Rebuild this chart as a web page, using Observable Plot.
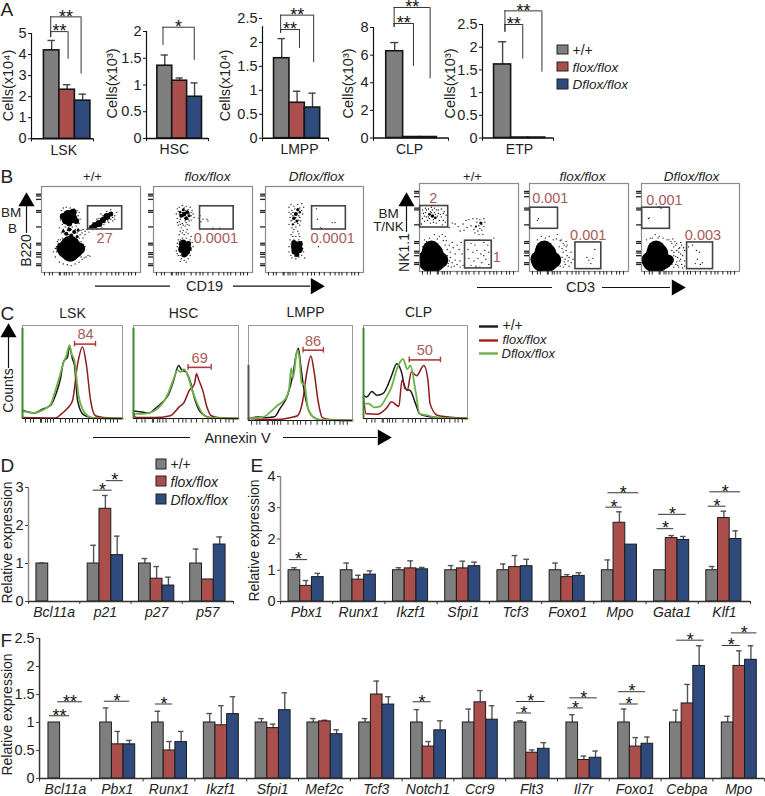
<!DOCTYPE html>
<html><head><meta charset="utf-8">
<style>html,body{margin:0;padding:0;background:#fff}#page{position:relative;width:765px;height:796px;overflow:hidden}#page svg{position:absolute}</style>
<script src="https://cdn.jsdelivr.net/npm/d3@7"></script>
<script src="https://cdn.jsdelivr.net/npm/@observablehq/plot@0.6"></script>
</head><body><div id="page"></div>
<script>
const FONT = "'Liberation Sans',Arial,sans-serif";
const TXT = "#222", REDTXT = "#a85a5a";
const groups = ["+/+","flox/flox","Dflox/flox"];
const barColors = ["#7f7f7f","#ab4f4c","#2f4a7c"];

// ---- Panel A: cell counts
const lskMean=[4.2,2.33,1.81], lskErr=[.47,.24,.31];
const hscMean=[1.36,1.08,.78], hscErr=[.2,.05,.26];
const lmppMean=[1.67,.74,.64], lmppErr=[.41,.24,.3];
const clpMean=[6.28,.07,.07], clpErr=[.63,0,0];
const etpMean=[1.62,.01,.01], etpErr=[.5,0,0];
// bracket: from, to, top, leftEnd, rightEnd, label
const lskBr=[[.31,.8,5.79,4.81,3.07,"**"],[.31,.59,5.09,4.81,3.78,"**"]];
const hscBr=[[.266,.77,2.08,1.74,1.46,"*"]];
const lmppBr=[[.275,.775,2.57,2.19,1.58,"**"],[.275,.56,2.27,2.19,1.875,"**"]];
const clpBr=[[.275,.755,9.45,8,4.29,"**"],[.275,.533,8.29,8,5.19,"**"]];
const etpBr=[[.316,.837,2.8,2.33,1.45,"**"],[.316,.567,2.5,2.33,1.74,"**"]];

// ---- Panel D
const catD=["Bcl11a","p21","p27","p57"];
const wtD=[1,1,1,1], wtDe=[.01,.48,.13,.38];
const fxD=[0,2.44,.6,.58], fxDe=[0,.35,.32,0];
const dfD=[0,1.22,.42,1.5], dfDe=[0,.5,.22,.2];
const brD=[[1.26,1.63,2.93,"*"],[1.52,1.85,3.18,"*"]];

// ---- Panel E
const catE=["Pbx1","Runx1","Ikzf1","Sfpi1","Tcf3","Foxo1","Mpo","Gata1","Klf1"];
const wtE=[1,1,1,1,1,1,1,1,1], wtEe=[.08,.23,.08,.15,.2,.23,.33,0,.12];
const fxE=[.5,.7,1.06,1.06,1.1,.78,2.52,2.03,2.67], fxEe=[.17,.14,.24,.23,.37,.08,.35,.08,.22];
const dfE=[.78,.86,1.03,1.13,1.13,.82,1.82,1.97,2], dfEe=[.12,.12,.06,.13,.22,.1,0,.11,.26];
const brE=[[.17,.52,1.34,"*"],[6.23,6.54,3.02,"*"],[6.27,6.86,3.48,"*"],[7.21,7.53,2.33,"*"],[7.24,7.77,2.79,"*"],[8.19,8.53,3.05,"*"],[8.22,8.81,3.51,"*"]];

// ---- Panel F
const catF=["Bcl11a","Pbx1","Runx1","Ikzf1","Sfpi1","Mef2c","Tcf3","Notch1","Ccr9","Flt3","Il7r","Foxo1","Cebpa","Mpo"];
const wtF=[1,1,1,1,1,1,1,1,1,1,1,1,1,1], wtFe=[0,.26,.2,.16,.07,.07,.07,.23,.24,.03,.14,.24,.22,.11];
const fxF=[0,.61,.5,.95,.9,1.02,1.5,.57,1.36,.46,.33,.57,1.34,2.01], fxFe=[0,.23,.16,.35,.07,.02,.24,.09,.21,.05,.07,.16,.34,.27];
const dfF=[0,.61,.65,1.15,1.22,.79,1.32,.86,1.05,.53,.37,.62,2.01,2.12], dfFe=[0,.07,.19,.31,.31,.08,.14,.17,.25,.11,.12,.12,.36,.25];
const brF=[[.19,.58,1.12,"**"],[.35,.83,1.37,"**"],[1.25,1.74,1.38,"*"],[2.24,2.57,1.33,"*"],[7.21,7.56,1.37,"*"],[9.21,9.5,1.17,"*"],[9.21,9.76,1.375,"*"],[10.2,10.5,1.26,"*"],[10.24,10.77,1.44,"*"],[11.2,11.56,1.33,"*"],[11.18,11.7,1.55,"*"],[12.3,12.83,2.47,"*"],[13.18,13.53,2.375,"*"],[13.36,13.85,2.6,"*"]];

// ---- Panel B: flow plots (percent of axis; third blob value = blob size)
const flowTicks=[3,8,11,18,19,23,25,28,31,38,43,47,50,55,60,66,71,75,78,83,88,91,95];
const flowTicksY=[8,10,18,21,23,32,34,53,70,72,85,89,91];
const b1Blobs=[[25,27,9],[33,27,9],[29,31,10],[29,23,9],[21,28,6],[38,28,6],[27,67,5],[31,63,5],[25,61,4.5],[32,70,3.5],[22,65,3.5],[35,60,3],[28,57,3],[66,65,3.5],[70,68,2.5],[62,61,3],[58,57,3.5],[54,55,3],[50,53,2],[28,50,2],[33,47,2],[25,45,2],[30,43,2],[36,42,1.5],[22,48,1.5],[37,49,1.5]];
const b1Spk=[[20,72],[22,75],[25,76],[29,75],[33,74],[36,72],[38,70],[20,66],[19,61],[21,56],[24,53],[27,52],[31,53],[35,54],[38,57],[39,62],[37,66],[18,52],[22,50],[26,49],[30,50],[34,50],[37,51],[40,49],[42,50],[20,46],[23,45],[27,44],[31,40],[36,46],[39,44],[41,46],[44,48],[46,50],[47,52],[21,40],[24,38],[28,38],[35,38],[38,40],[40,36],[17,38],[42,40],[44,44],[48,47],[52,50],[56,51],[60,54],[64,58],[72,60],[74,66],[76,70],[70,73],[66,71],[60,68],[56,62],[52,58],[74,62],[61,52],[68,58],[45,18],[47,20],[43,17],[49,19],[14,18],[15,30],[16,36],[42,25],[44,30],[40,18],[12,24],[18,12],[22,10],[26,9],[30,8],[34,10],[38,12],[41,15],[15,24],[14,28],[17,34],[42,33],[41,28],[36,38],[33,36],[23,36],[19,38],[29,37],[26,35],[32,34],[70,62],[72,64],[64,62],[59,60],[55,58],[51,56],[49,52],[53,52],[57,54],[63,56],[67,60],[71,70],[62,66],[58,63]];
const b2Blobs=[[32,30,5],[29,27,4],[33,25,4],[35,33,3],[30,35,3],[31,21,3],[28,33,2.5],[36,28,2.5],[31,68,2.2],[34,70,2],[28,66,2],[33,63,2],[30,73,1.5],[36,66,1.5],[27,70,1.2]];
const b2Spk=[[24,74],[26,76],[29,78],[33,77],[37,76],[39,72],[40,68],[41,64],[38,61],[36,60],[33,58],[29,57],[26,59],[24,63],[23,68],[27,71],[35,73],[38,66],[25,55],[28,52],[32,54],[36,55],[27,48],[30,49],[34,50],[26,44],[31,44],[35,45],[29,40],[33,40],[25,38],[24,34],[37,38],[39,35],[40,30],[38,26],[37,20],[35,16],[31,14],[28,16],[25,20],[23,25],[24,30],[27,38],[47,66],[46,63],[50,62],[54,62],[55,60],[60,51.5],[67,51.5],[48,59],[26,68],[29,70],[32,72],[35,67],[30,65],[27,62],[32,60],[35,62],[38,70],[25,71],[31,75],[36,69],[34,56],[30,55],[27,56],[24,58],[29,46],[33,47],[38,42],[26,36],[36,36],[24,22],[27,20],[34,20],[36,23],[27,13],[33,12]];
const b3Blobs=[[31,30,5],[34,27,4],[30,25,3.5],[35,33,3],[29,35,2.5],[32,21,2.5],[31,68,2],[33,73,1.6],[29,63,1.8],[32,60,1.5],[35,70,1.2],[28,56,1.2]];
const b3Spk=[[24,76],[26,79],[29,77],[33,79],[37,80],[39,76],[27,72],[24,70],[37,72],[38,68],[35,64],[36,60],[25,64],[26,60],[24,56],[27,52],[31,53],[35,55],[33,48],[28,47],[26,44],[31,42],[35,42],[29,38],[25,38],[34,38],[37,36],[27,34],[24,30],[38,28],[39,24],[37,20],[34,18],[30,19],[26,20],[24,24],[52,74],[53,62],[68,58],[71,58],[56,52],[57,51],[54,30],[40,17],[28,70],[30,74],[35,75],[34,66],[28,66],[26,68],[31,64],[34,61],[30,58],[27,61],[33,57],[29,50],[34,45],[28,42],[32,36],[26,33],[36,30],[28,22],[35,24],[31,16],[27,17]];
const nk1Blobs=[[10,12,11],[15,12,11],[13,20,11],[12,25,9],[6,14,8],[21,13,8],[13,63,1.8],[10,65,1.4],[16,61,1.4],[62,55,1.6],[57,51,1.1]];
const nk1Spk=[[3,70],[6,72],[9,71],[12,73],[15,72],[19,70],[22,71],[25,68],[27,64],[4,66],[7,62],[3,60],[5,57],[8,58],[11,55],[14,56],[17,55],[20,58],[22,62],[24,58],[26,56],[19,66],[21,65],[10,60],[6,67],[2,54],[23,53],[12,67],[15,67],[9,62],[16,65],[18,63],[14,59],[11,68],[7,70],[17,70],[5,63],[24,66],[13,70],[30,50],[33,55],[36,54],[39,51],[44,54],[47,58],[50,59],[54,60],[58,60],[61,59],[65,60],[66,56],[65,51],[63,47],[59,46],[55,48],[52,52],[48,50],[45,47],[41,46],[60,42],[64,42],[56,44],[60,52],[63,53],[58,56],[61,49],[27,35],[30,30],[33,33],[28,25],[31,22],[34,27],[36,20],[27,15],[30,12],[33,10],[36,13],[38,8],[41,12],[43,20],[40,25],[38,30],[42,33],[29,6],[32,5],[35,6],[44,7],[41,5],[48,35],[52,32],[56,30],[60,36],[65,33],[69,30],[49,25],[54,22],[58,24],[62,20],[66,24],[70,22],[50,15],[55,12],[59,15],[63,10],[67,14],[70,8],[52,7],[57,6],[61,5],[65,18],[72,35],[75,38],[23,42],[26,40],[20,40],[15,42],[28,18],[29,9],[31,16],[26,30],[24,35],[7,34],[5,36],[10,38],[18,37],[3,28]];
const nk2Blobs=[[13,12,11],[18,12,11],[16,20,11],[15,25,9],[9,14,8],[24,13,8]];
const nk2Spk=[[8,58],[9,60],[32,36],[35,30],[37,24],[38,18],[39,12],[36,8],[40,6],[34,32],[27,37],[20,40],[12,40],[28,42],[33,26],[36,14],[42,10],[44,14],[42,22],[38,30],[58,16],[60,13],[62,9],[64,15],[66,25],[65,34],[34,22],[37,28],[40,16],[31,35],[30,28],[33,16],[35,11],[31,6],[34,5],[37,34],[24,36],[16,38],[8,36]];
const nk3Blobs=[[12,12,11],[17,12,11],[16,20,11],[15,25,9],[8,13,8],[23,12,8],[28,13,5]];
const nk3Spk=[[7,60],[8,61],[18,40],[14,42],[11,38],[22,38],[28,36],[31,32],[33,28],[35,30],[36,24],[38,22],[37,16],[39,12],[41,8],[40,20],[42,18],[44,12],[35,8],[38,5],[43,27],[34,34],[41,30],[44,24],[32,37],[44,6],[39,27],[31,8],[33,5],[52,30],[56,24],[59,22],[57,14],[62,10],[60,8],[55,9],[48,28],[20,72],[18,74],[36,11],[33,18],[35,17],[38,26],[31,24],[33,22],[36,32],[30,34],[26,36],[40,14],[42,4],[37,7],[40,33],[5,36],[9,38],[17,38]];

// ---- Panel C: histograms
const lskK=[[0,9],[12,6],[20,10],[28,14],[33,25],[38,43],[41,61],[45,66],[47,77],[50,64],[52,57],[55,20],[60,5],[65,2],[71,.5],[100,0]];
const lskG=[[0,8],[12,6],[20,9],[28,15],[32,27],[36,41],[41,60],[44,68],[47,79],[49,70],[52,62],[56,25],[60,10],[65,3],[72,.5],[100,0]];
const lskR=[[0,1],[33,.5],[39,5],[45,11],[50,19],[55,58],[60,77],[64,57],[68,20],[73,3],[81,1],[100,0]];
const hsK=[[0,8],[8,7],[15,6],[21,11],[28,18],[33,25],[38,40],[43,57],[46,52],[50,50],[54,40],[58,22],[63,8],[70,2],[76,.5],[100,0]];
const hsG=[[0,5],[8,5],[15,6],[21,9],[28,17],[33,27],[38,42],[42,52],[45,50],[48,53],[52,45],[56,30],[60,18],[66,5],[72,1],[100,0]];
const hsR=[[0,6],[2,1],[20,1],[35,3],[44,13],[48,17],[53,30],[58,37],[60,48],[62,42],[66,30],[70,12],[74,3],[82,.8],[100,0]];
const lmK=[[0,2],[10,4],[15,3],[25,4],[30,12],[38,28],[43,50],[46,70],[48,76],[50,60],[53,35],[58,10],[63,3],[70,.5],[100,0]];
const lmG=[[0,2],[7,3],[15,4],[22,10],[28,16],[35,22],[39,33],[41,55],[43,45],[46,70],[47,74],[49,65],[51,40],[54,37],[57,14],[62,4],[68,1],[100,0]];
const lmR=[[0,2],[25,1],[40,3],[47,5],[52,20],[56,50],[60,68],[63,52],[67,20],[71,3],[78,1],[100,0]];
const clK=[[0,25],[3,23],[8,29],[13,25],[19,27],[24,37.5],[27,46],[32,59],[37,48],[40,32],[45,30],[50,16],[54,5],[61,2.5],[71,1],[100,0]];
const clG=[[0,16],[5,16],[10,12],[16,13],[22,23],[27,34],[32,53],[38,64],[42,53],[45,57],[50,30],[54,5],[61,3.5],[70,1],[100,0]];
const clR=[[0,23],[2.5,5],[13,4.5],[22,11],[27,18],[34,13],[37,41],[42,30],[46,50],[51,46],[58,57],[62,41],[64,16],[71,3.5],[80,1.8],[90,.7],[100,0]];
// height of the spike at channel 0, and its colour
const spikes={lsk:[97,"#3f8a2e"],hsc:[97,"#3f8a2e"],lmpp:[58,"#555"],clp:[97,"#3f8a2e"]};

const page = document.getElementById("page");
function place(opts, left, top, right, bottom, pad=[28,34,26,8]) {
  const [pt,pl,pb,pr]=pad;
  const svg = Plot.plot({
    width:right-left+pl+pr, height:bottom-top+pt+pb,
    marginTop:pt, marginLeft:pl, marginBottom:pb, marginRight:pr,
    style:{background:"transparent",overflow:"visible",fontFamily:FONT,color:TXT},
    ...opts
  });
  svg.style.left=(left-pl)+"px"; svg.style.top=(top-pt)+"px";
  page.appendChild(svg);
}
function rowsOf(series, errs, xOf, w) {
  const rows=[];
  series.forEach((vals,j)=>vals.forEach((v,i)=>{
    if(v>0){const c=xOf(i,j);rows.push({group:groups[j],x1:c-w/2,x2:c+w/2,c,v,top:v+errs[j][i],e:errs[j][i],w});}
  }));
  return rows;
}
function barMarks(rows, barStroke, barW, errColor) {
  const er=rows.filter(d=>d.e>0);
  return [
    Plot.ruleX(er,{x:"c",y1:"v",y2:"top",stroke:errColor,strokeWidth:1.4}),
    Plot.ruleY(er,{y:"top",x1:d=>d.c-d.w*.24,x2:d=>d.c+d.w*.24,stroke:errColor,strokeWidth:1.4}),
    Plot.rect(rows,{x1:"x1",x2:"x2",y1:()=>0,y2:"v",fill:"group",stroke:barStroke,strokeWidth:barW})
  ];
}
// panel A chart
function panelA(mean,err,br,cfg){
  const w=cfg.w;
  const rows=rowsOf([[mean[0]],[mean[1]],[mean[2]]],[[err[0]],[err[1]],[err[2]]],(i,j)=>cfg.start+w*(j+.5),w);
  place({
    x:{domain:[0,1],axis:null}, y:{domain:[0,cfg.ymax],axis:null},
    color:{domain:groups,range:barColors},
    marks:[
      ...barMarks(rows,"#151515",1.6,"#444"),
      Plot.ruleY([0],{stroke:"#111",strokeWidth:1.4}),
      Plot.ruleX([0],{y1:0,y2:cfg.axisTop??cfg.ymax,stroke:"#111",strokeWidth:1.2}),
      Plot.ruleX([0,1],{y1:0,y2:-cfg.ymax*.03,stroke:"#111"}),
      Plot.axisY({ticks:cfg.ticks,tickSize:3,tickPadding:2,fontSize:14.5,label:null,tickFormat:d=>String(d),stroke:"#111"}),
      Plot.ruleY(br,{y:d=>d[2],x1:d=>d[0],x2:d=>d[1],stroke:"#333",strokeWidth:1}),
      Plot.ruleX(br,{x:d=>d[0],y1:d=>d[2],y2:d=>d[3],stroke:"#333",strokeWidth:1}),
      Plot.ruleX(br,{x:d=>d[1],y1:d=>d[2],y2:d=>d[4],stroke:"#333",strokeWidth:1}),
      Plot.text(br,{x:d=>(d[0]+d[1])/2,y:d=>d[2],text:d=>d[5],fontSize:18,fill:"#111"}),
      Plot.text([cfg.name],{x:()=>cfg.nameX,y:()=>0,dy:11.5,fontSize:14,fill:TXT})
    ]
  },cfg.l,cfg.t,cfg.r,cfg.b,[28,40,26,8]);
}
panelA(lskMean,lskErr,lskBr,{name:"LSK",nameX:.52,l:31,r:93,t:32.7,b:138,ymax:5,ticks:[0,1,2,3,4,5],start:.2,w:.25});
panelA(hscMean,hscErr,hscBr,{name:"HSC",nameX:.45,l:146,r:208,t:31,b:138,ymax:2,ticks:[0,.5,1,1.5,2],start:.175,w:.24});
panelA(lmppMean,lmppErr,lmppBr,{name:"LMPP",nameX:.56,l:262,r:328,t:18.3,b:138,ymax:2.5,axisTop:2.33,ticks:[0,.5,1,1.5,2,2.5],start:.175,w:.233});
panelA(clpMean,clpErr,clpBr,{name:"CLP",nameX:.48,l:373,r:448,t:27,b:137.5,ymax:8,ticks:[0,2,4,6,8],start:.17,w:.225});
panelA(etpMean,etpErr,etpBr,{name:"ETP",nameX:.52,l:482,r:553,t:24,b:137.5,ymax:2.5,ticks:[0,.5,1,1.5,2,2.5],start:.163,w:.24});

// expression charts
function expr(cats,series,errs,br,cfg){
  const w=cfg.w;
  const rows=rowsOf(series,errs,(i,j)=>i+.5+cfg.off+(j-1)*w,w);
  const n=cats.length;
  place({
    x:{domain:[0,n],axis:null}, y:{domain:[0,cfg.ymax],axis:null},
    color:{domain:groups,range:barColors},
    marks:[
      ...barMarks(rows,"#1c1c1c",1,"#555"),
      Plot.ruleY([0],{stroke:"#333",strokeWidth:1.3}),
      Plot.ruleX([0],{y1:0,y2:cfg.ymax,stroke:cfg.axisColor,strokeWidth:1.5}),
      Plot.ruleX(d3.range(n+1),{y1:0,y2:-cfg.ymax*.025,stroke:"#333"}),
      Plot.axisY({ticks:cfg.ticks,tickSize:3,tickPadding:2,fontSize:14.5,label:null,tickFormat:d=>String(d),stroke:"#444"}),
      Plot.ruleY(br,{y:d=>d[2],x1:d=>d[0],x2:d=>d[1],stroke:"#333",strokeWidth:1}),
      Plot.text(br,{x:d=>(d[0]+d[1])/2,y:d=>d[2],text:d=>d[3],fontSize:18,fill:"#111"}),
      Plot.text(cats,{x:(d,i)=>i+.5,y:()=>0,dy:11,text:d=>d,fontSize:14,fontStyle:"italic",fill:TXT})
    ]
  },cfg.l,cfg.t,cfg.r,cfg.b,[28,28,22,6]);
}
expr(catD,[wtD,fxD,dfD],[wtDe,fxDe,dfDe],brD,{l:28,r:233,t:486.7,b:600.7,ymax:3,ticks:[0,1,2,3],w:.23,off:0,axisColor:"#888"});
expr(catE,[wtE,fxE,dfE],[wtEe,fxEe,dfEe],brE,{l:280,r:750,t:475.7,b:600.7,ymax:4,ticks:[0,1,2,3,4],w:.224,off:-.01,axisColor:"#888"});
expr(catF,[wtF,fxF,dfF],[wtFe,fxFe,dfFe],brF,{l:39.3,r:764.5,t:638.3,b:778.3,ymax:2.5,ticks:[0,.5,1,1.5,2,2.5],w:.225,off:.01,axisColor:"#333"});

// flow plots
function flow(blobs,spk,gates,labels,l,t,r,b){
  place({
    x:{domain:[0,100],axis:null}, y:{domain:[0,100],axis:null}, r:{type:"identity"},
    marks:[
      Plot.dot(blobs,{x:d=>d[0],y:d=>d[1],r:d=>d[2],fill:"#000",clip:true}),
      Plot.dot(spk,{x:d=>d[0],y:d=>d[1],r:.65,fill:"#000",clip:true}),
      Plot.frame({stroke:"#8c8c8c",strokeWidth:1.2}),
      Plot.ruleX(flowTicks,{y1:0,y2:-4,stroke:"#222"}),
      Plot.ruleY(flowTicksY,{x1:0,x2:-5,stroke:"#222",strokeWidth:1.3}),
      Plot.rect(gates,{x1:d=>d[0],x2:d=>d[1],y1:d=>d[2],y2:d=>d[3],fill:"none",stroke:"#444",strokeWidth:1.6}),
      Plot.text(labels,{x:d=>d[1],y:d=>d[2],text:d=>d[0],fontSize:14.5,fill:REDTXT})
    ]
  },l,t,r,b,[6,8,8,4]);
}
flow(b1Blobs,b1Spk,[[47,81.5,50,77]],[["27",63.8,40]],41,186,140,272);
flow(b2Blobs,b2Spk,[[47,81,50,77]],[["0.0001",63,40]],153,186,252,272);
flow(b3Blobs,b3Spk,[[47.5,82,50,77]],[["0.0001",68.5,40]],265,186,363,272);
flow(nk1Blobs,nk1Spk,[[.7,29,50,74.4],[46,73,3.5,35]],[["2",14,83],["1",78,16]],419,183,518,271);
flow(nk2Blobs,nk2Spk,[[.7,28.8,48.5,72.5],[46.4,72.5,2.7,33]],[["0.001",21,83],["0.001",59.3,41.6]],529,183,628,271);
flow(nk3Blobs,nk3Spk,[[.7,29,48.5,72.5],[46.5,73,2.7,33]],[["0.001",23.4,81],["0.003",62.7,41.6]],641,183,739,271);

// histograms
function hist(k,g,r,spike,gate,label,l,t,rt,b){
  place({
    x:{domain:[0,100],axis:null}, y:{domain:[0,100],axis:null},
    marks:[
      Plot.frame({stroke:"#999",strokeWidth:1}),
      Plot.line(k,{x:d=>d[0],y:d=>d[1],stroke:"#1a1a1a",strokeWidth:1.5,curve:"monotone-x"}),
      Plot.line(r,{x:d=>d[0],y:d=>d[1],stroke:"#8c1c1c",strokeWidth:1.5,curve:"monotone-x"}),
      Plot.line(g,{x:d=>d[0],y:d=>d[1],stroke:"#6fb04a",strokeWidth:1.8,curve:"monotone-x"}),
      Plot.ruleX([0],{y1:0,y2:spike[0],stroke:spike[1],strokeWidth:2}),
      Plot.ruleY([0],{stroke:"#111",strokeWidth:1.2}),
      Plot.ruleX(flowTicks,{y1:0,y2:-5,stroke:"#333"}),
      Plot.ruleY([gate],{x1:d=>d[0],x2:d=>d[1],y:d=>d[2],stroke:"#b03a3a",strokeWidth:1.6}),
      Plot.ruleX(gate.slice(0,2),{x:d=>d,y1:gate[2]-3,y2:gate[2]+3,stroke:"#b03a3a",strokeWidth:1.4}),
      Plot.text([label],{x:d=>d[1],y:d=>d[2],text:d=>d[0],fontSize:14.5,fill:REDTXT})
    ]
  },l,t,rt,b,[6,6,8,4]);
}
hist(lskK,lskG,lskR,spikes.lsk,[52,73,80],["84",63,90],22,325,122,418);
hist(hsK,hsG,hsR,spikes.hsc,[52,74,55],["69",63,65],133,325,238,418);
hist(lmK,lmG,lmR,spikes.lmpp,[52.5,72,74],["86",62,83],248,325,352,420);
hist(clK,clG,clR,spikes.clp,[44,74,63],["50",59,73],363,325,467,418);

// ---- Annotation layer: labels, legends and axis arrows, in page units
const plainLabels=[
 ["A",0,9.5,19,"start"],["B",0,176,19,"start"],["C",0,313,19,"start"],["D",0,465,19,"start"],["E",250,465,19,"start"],["F",0,640,19,"start"],
 ["+/+",92,176,13,"middle"],["+/+",472,176,13,"middle"],
 ["BM",10.5,212,13.5,"middle"],["B",12,228,13.5,"middle"],["CD19",204,286,14.5,"middle"],
 ["BM",388,213,13.5,"middle"],["T/NK",388,226.5,13.5,"middle"],["CD3",580,287,14.5,"middle"],
 ["LSK",72,313,14,"middle"],["HSC",183,313,14,"middle"],["LMPP",305,312,14,"middle"],["CLP",418,312,14,"middle"],
 ["Annexin V",237,438,14.5,"middle"],
 ["+/+",572,50,14,"start"],["+/+",502,325,14,"start"],["+/+",170,464,14,"start"]
];
const italicLabels=[
 ["flox/flox",207,176,13.5,"middle"],["Dflox/flox",316,176,13.5,"middle"],["flox/flox",582,176,13.5,"middle"],["Dflox/flox",691,176,13.5,"middle"],
 ["flox/flox",572,67,13.5,"start"],["Dflox/flox",572,84,13.5,"start"],
 ["flox/flox",502,339.5,13,"start"],["Dflox/flox",501,353.5,13,"start"],
 ["flox/flox",170,482,14,"start"],["Dflox/flox",170,500,14,"start"]
];
const rotLabels=[
 ["Cells(x10⁴)",8,85,14.5],["Cells(x10³)",112,83,14.5],["Cells(x10⁴)",225,85,14.5],["Cells(x10³)",348,83,14.5],["Cells(x10³)",450,83,14.5],
 ["B220",26,250,14],["NK1.1",404,252,14],["Counts",8,390,14],
 ["Relative expression",7.5,542,14],["Relative expression",254,540,14],["Relative expression",7.5,714,14]
];
const legendBoxes=[
 [557,568,45,54,0],[557,568,62,71,1],[557,568,79,89,2],
 [156,166,459,469,0],[156,166,476,486,1],[156,166,494,504,2]
];
const legendLines=[[479,498,326,"#1a1a1a"],[479,498,340,"#a01f1f"],[479,498,353,"#6fb04a"]];
const hArrows=[[95,170,285.7],[233,310,285.7],[477,552,287],[602,670,287],[93,190,437],[283,377,437]];
const vArrows=[[26,206,233],[406,206,232],[8,337,368]];
const rightHeads=[[315,285.7],[676,287],[382,437]];
const upHeads=[[26,201],[406,201],[8,332]];
const layer=Plot.plot({
  width:765,height:796,margin:0,
  x:{domain:[0,765],axis:null}, y:{domain:[796,0],axis:null},
  color:{domain:groups,range:barColors},
  style:{background:"transparent",overflow:"visible",fontFamily:FONT,color:TXT},
  marks:[
    Plot.rect(legendBoxes,{x1:d=>d[0],x2:d=>d[1],y1:d=>d[2],y2:d=>d[3],fill:d=>groups[d[4]],stroke:"#222",strokeWidth:1}),
    Plot.ruleY(legendLines,{x1:d=>d[0],x2:d=>d[1],y:d=>d[2],stroke:d=>d[3],strokeWidth:2.4}),
    Plot.ruleY(hArrows,{x1:d=>d[0],x2:d=>d[1],y:d=>d[2],stroke:"#111",strokeWidth:1.2}),
    Plot.ruleX(vArrows,{x:d=>d[0],y1:d=>d[1],y2:d=>d[2],stroke:"#111",strokeWidth:1.2}),
    Plot.dot(upHeads,{x:d=>d[0],y:d=>d[1],symbol:"triangle",r:6,fill:"#000",stroke:"none"}),
    Plot.dot(rightHeads,{x:d=>d[0],y:d=>d[1],symbol:"triangle",r:6,rotate:90,fill:"#000",stroke:"none"}),
    ...["start","middle"].flatMap(a=>[
      Plot.text(plainLabels.filter(d=>d[4]===a),{x:d=>d[1],y:d=>d[2],text:d=>d[0],fontSize:d=>d[3],textAnchor:a,fill:TXT}),
      Plot.text(italicLabels.filter(d=>d[4]===a),{x:d=>d[1],y:d=>d[2],text:d=>d[0],fontSize:d=>d[3],textAnchor:a,fontStyle:"italic",fill:TXT})
    ]),
    Plot.text(rotLabels,{x:d=>d[1],y:d=>d[2],text:d=>d[0],fontSize:d=>d[3],rotate:-90,fill:TXT})
  ]
});
layer.style.left="0";layer.style.top="0";
page.appendChild(layer);
</script></body></html>
